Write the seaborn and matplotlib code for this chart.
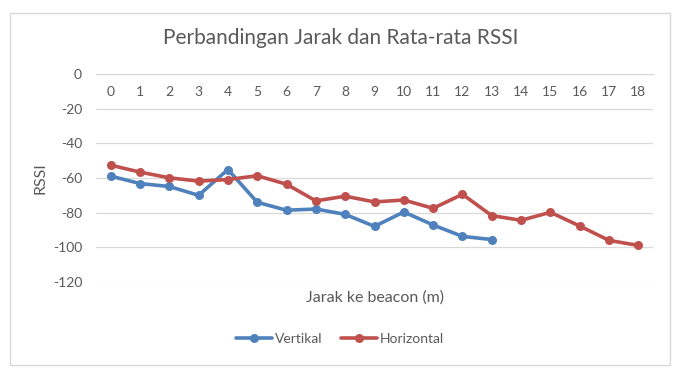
import pandas as pd
import matplotlib
matplotlib.use("Agg")
import matplotlib.pyplot as plt
import seaborn as sns
from matplotlib.patches import Rectangle

# Data
jarak_vertikal = list(range(0, 14))
rssi_vertikal = [-58.9, -63.2, -64.9, -70.0, -55.1, -74.0, -78.6, -77.9, -81.0, -87.9,
                 -79.6, -87.1, -93.7, -95.5]
jarak_horizontal = list(range(0, 19))
rssi_horizontal = [-52.6, -56.6, -59.9, -61.8, -60.9, -58.7, -63.6, -73.2, -70.5, -73.8,
                   -72.7, -77.5, -69.4, -81.7, -84.4, -79.8, -87.7, -96.0, -98.9]
y_ticks = [0, -20, -40, -60, -80, -100, -120]

df = pd.concat([
    pd.DataFrame({'jarak': jarak_vertikal, 'rssi': rssi_vertikal, 'seri': 'Vertikal'}),
    pd.DataFrame({'jarak': jarak_horizontal, 'rssi': rssi_horizontal, 'seri': 'Horizontal'}),
])

sns.set_style("white")
plt.rcParams['font.family'] = ['Lato', 'DejaVu Sans']
plt.rcParams['axes.unicode_minus'] = False
text_color = '#595959'
grid_color = '#d9d9d9'

fig = plt.figure(figsize=(6.81, 3.75), dpi=100)
ax = fig.add_axes([96 / 681, 1 - 282 / 375, (653 - 96) / 681, (282 - 74) / 375])

sns.lineplot(data=df, x='jarak', y='rssi', hue='seri',
             palette={'Vertikal': '#4F81BD', 'Horizontal': '#C0504D'},
             marker='o', markersize=6.5, markeredgewidth=0, linewidth=2.6, ax=ax)

ax.set_xlim(-0.5, 18.5)
ax.set_ylim(-120, 0)
ax.set_yticks(y_ticks)
ax.set_xticks(jarak_horizontal)
ax.grid(True, axis='y', color=grid_color, linewidth=0.9)
ax.set_axisbelow(True)

for side in ['top', 'left', 'right']:
    ax.spines[side].set_visible(False)
ax.spines['bottom'].set_position(('data', 0))
ax.spines['bottom'].set_color(grid_color)
ax.spines['bottom'].set_linewidth(0.9)

ax.tick_params(axis='x', length=0, pad=9, labelsize=10, colors=text_color)
ax.tick_params(axis='y', length=0, pad=10, labelsize=10, colors=text_color)

ax.set_xlabel('Jarak ke beacon (m)', fontsize=11.5, color=text_color)
ax.xaxis.set_label_coords(0.5, -0.04)
ax.set_ylabel('RSSI', fontsize=11.5, color=text_color, labelpad=4)

fig.suptitle('Perbandingan Jarak dan Rata-rata RSSI', x=0.5, y=0.925,
             fontsize=15, color=text_color)

leg = ax.legend(loc='center', bbox_to_anchor=(340 / 681, 1 - 339 / 375),
                bbox_transform=fig.transFigure, ncol=2, frameon=False,
                fontsize=10, handlelength=2.6, handletextpad=0.2, columnspacing=1.3)
for t in leg.get_texts():
    t.set_color(text_color)

# chart border
fig.patches.append(Rectangle((10 / 681, 1 - 365 / 375), 660 / 681, 352 / 375,
                             transform=fig.transFigure, fill=False,
                             edgecolor=grid_color, linewidth=1))

plt.savefig('out.png', dpi=100)
